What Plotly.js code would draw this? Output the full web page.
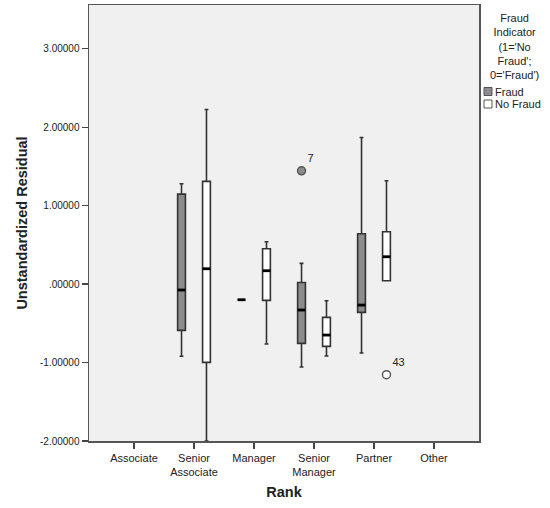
<!DOCTYPE html>
<html>
<head>
<meta charset="utf-8">
<script src="https://cdn.plot.ly/plotly-3.0.1.min.js"></script>
<style>html,body{margin:0;padding:0;background:#fff;}#chart{width:550px;height:508px;}</style>
</head>
<body>
<div id="chart"></div>
<script>
// ---- data ----
const categories = ['Associate', 'Senior Associate', 'Manager', 'Senior Manager', 'Partner', 'Other'];
const tickLabels = ['Associate', 'Senior<br>Associate', 'Manager', 'Senior<br>Manager', 'Partner', 'Other'];
const groupCats = ['Senior Associate', 'Manager', 'Senior Manager', 'Partner'];

const fraudQ1     = [-0.59, -0.20, -0.756, -0.361];
const fraudMedian = [-0.076, -0.20, -0.331, -0.268];
const fraudQ3     = [1.146, -0.20, 0.02, 0.641];
const fraudLower  = [-0.92, -0.20, -1.057, -0.879];
const fraudUpper  = [1.278, -0.20, 0.263, 1.868];

const noFraudQ1     = [-0.998, -0.208, -0.794, 0.042];
const noFraudMedian = [0.195, 0.17, -0.65, 0.348];
const noFraudQ3     = [1.308, 0.45, -0.425, 0.666];
const noFraudLower  = [-2.0, -0.764, -0.917, 0.042];
const noFraudUpper  = [2.225, 0.539, -0.212, 1.316];

const fraudOutlierCat = ['Senior Manager'];
const fraudOutlierVal = [1.443];
const fraudOutlierId  = ['7'];
const noFraudOutlierCat = ['Partner'];
const noFraudOutlierVal = [-1.155];
const noFraudOutlierId  = ['43'];

const yTickVals = [-2, -1, 0, 1, 2, 3];
const yTickText = ['-2.00000', '-1.00000', '.00000', '1.00000', '2.00000', '3.00000'];

const legendTitleLines = ['Fraud', 'Indicator', "(1='No", "Fraud';", "0='Fraud')"];
const legendNames = ['Fraud', 'No Fraud'];

// ---- style ----
const FONT = 'Liberation Sans, Arial, sans-serif';
const fraudFill = '#8c8c8c';
const noFraudFill = '#ffffff';
const boxLine = '#333333';
const offset = 0.208;
const boxW = 0.13;
const M = {l: 89, r: 71, t: 5, b: 67};
const W = 550, H = 508;
const pw = W - M.l - M.r, ph = H - M.t - M.b;
const px2x = p => (p - M.l) / pw;
const px2y = p => 1 - (p - M.t) / ph;

const idx = c => categories.indexOf(c);
const posF = groupCats.map(c => idx(c) - offset);
const posN = groupCats.map(c => idx(c) + offset);

function boxTrace(name, x, q1, med, q3, lo, up, fill) {
  return {
    type: 'box', name: name, x: x, q1: q1, median: med, q3: q3,
    lowerfence: lo, upperfence: up, width: boxW, whiskerwidth: 0.5,
    fillcolor: fill, line: {color: boxLine, width: 1.6},
    boxpoints: false, showlegend: false, hoverinfo: 'skip'
  };
}
function medianTrace(x, med) {
  const xs = [], ys = [];
  x.forEach((p, i) => { xs.push(p - boxW / 2, p + boxW / 2, null); ys.push(med[i], med[i], null); });
  return {type: 'scatter', mode: 'lines', x: xs, y: ys, line: {color: '#000', width: 2.8},
          showlegend: false, hoverinfo: 'skip'};
}
function outlierTrace(cats, vals, ids, fill, sign) {
  return {
    type: 'scatter', mode: 'markers+text',
    x: cats.map(c => idx(c) + sign * offset), y: vals, text: ids,
    textposition: 'top right', textfont: {family: FONT, size: 11, color: '#222'},
    marker: {symbol: 'circle', size: 8, color: fill, line: {color: '#555', width: 1.4}},
    showlegend: false, hoverinfo: 'skip', cliponaxis: false
  };
}

const data = [
  boxTrace('Fraud', posF, fraudQ1, fraudMedian, fraudQ3, fraudLower, fraudUpper, fraudFill),
  boxTrace('No Fraud', posN, noFraudQ1, noFraudMedian, noFraudQ3, noFraudLower, noFraudUpper, noFraudFill),
  medianTrace(posF, fraudMedian),
  medianTrace(posN, noFraudMedian),
  outlierTrace(fraudOutlierCat, fraudOutlierVal, fraudOutlierId, fraudFill, -1),
  outlierTrace(noFraudOutlierCat, noFraudOutlierVal, noFraudOutlierId, noFraudFill, 1)
];

// legend built from annotations + swatches
const annotations = [{
  xref: 'paper', yref: 'paper', x: px2x(514), y: px2y(46.5),
  xanchor: 'center', yanchor: 'middle', align: 'center', showarrow: false,
  text: legendTitleLines.join('<br>'),
  font: {family: FONT, size: 11, color: '#222'}
}];
const shapes = [];
const fills = [fraudFill, noFraudFill];
legendNames.forEach((n, i) => {
  const cy = 91.5 + i * 12.5;
  annotations.push({xref: 'paper', yref: 'paper', x: px2x(493), y: px2y(cy),
    xanchor: 'left', yanchor: 'middle', showarrow: false, text: n,
    font: {family: FONT, size: 11, color: '#222'}});
  shapes.push({type: 'rect', xref: 'paper', yref: 'paper',
    x0: px2x(484), x1: px2x(492), y0: px2y(cy - 4), y1: px2y(cy + 4),
    fillcolor: fills[i], line: {color: '#555', width: 1}});
});

const layout = {
  width: W, height: H, margin: M,
  paper_bgcolor: '#ffffff', plot_bgcolor: '#f0f0f0',
  font: {family: FONT, size: 11, color: '#222'},
  showlegend: false,
  xaxis: {
    range: [-0.75, 5.75], tickvals: categories.map((c, i) => i), ticktext: tickLabels,
    ticks: 'outside', ticklen: 6, tickwidth: 1.2, tickcolor: '#444',
    showline: true, linecolor: '#555', linewidth: 1.5, mirror: true,
    showgrid: false, zeroline: false, fixedrange: true,
    tickfont: {family: FONT, size: 11, color: '#222'},
    title: {text: 'Rank', font: {family: FONT, size: 14.5, color: '#222', weight: 'bold'}, standoff: 10}
  },
  yaxis: {
    range: [-2.0, 3.556], tickvals: yTickVals, ticktext: yTickText,
    ticks: 'outside', ticklen: 6, tickwidth: 1.2, tickcolor: '#444',
    showline: true, linecolor: '#555', linewidth: 1.5, mirror: true,
    showgrid: false, zeroline: false, fixedrange: true,
    tickfont: {family: FONT, size: 10, color: '#222'},
    title: {text: 'Unstandardized Residual', font: {family: FONT, size: 14.5, color: '#222', weight: 'bold'}, standoff: 9}
  },
  annotations: annotations,
  shapes: shapes
};

Plotly.newPlot('chart', data, layout, {staticPlot: true, displayModeBar: false});
</script>
</body>
</html>
